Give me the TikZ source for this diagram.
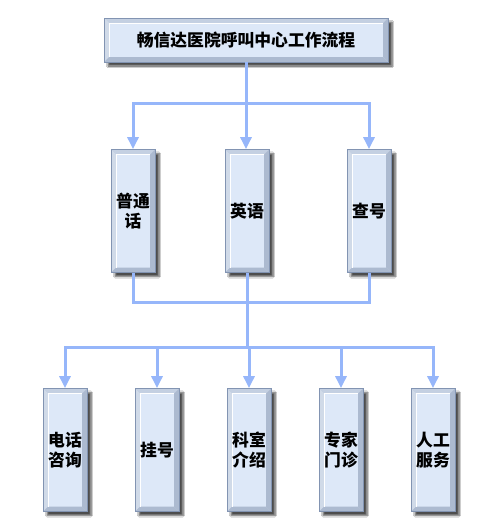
\documentclass[tikz,border=0pt]{standalone}
\usepackage{fontspec}
\newfontfamily\cjk{Noto Sans CJK SC}
\usetikzlibrary{arrows.meta,shadows.blur}
\definecolor{linec}{RGB}{150,182,250}
\definecolor{facec}{RGB}{221,232,248}
\definecolor{edgec}{RGB}{130,148,178}
\definecolor{bevtop}{RGB}{196,208,226}
\definecolor{bevbot}{RGB}{172,186,208}
\tikzset{
  conn/.style={draw=linec, line width=3pt},
  arr/.style={conn, -{Triangle[width=11pt,length=12pt]}},
  bevelbox/.style={rectangle, draw=edgec, line width=0.8pt, fill=facec,
    inner sep=0pt, align=center,
    font=\cjk\bfseries\fontsize{16.8pt}{20pt}\selectfont,
    blur shadow={shadow xshift=4pt, shadow yshift=-4pt, shadow blur steps=6, shadow opacity=70},
    path picture={
      \coordinate (NW) at (path picture bounding box.north west);
      \coordinate (NE) at (path picture bounding box.north east);
      \coordinate (SW) at (path picture bounding box.south west);
      \coordinate (SE) at (path picture bounding box.south east);
      \fill[bevtop] (NW) -- (NE) -- ([shift={(-5pt,-5pt)}]NE) -- ([shift={(5pt,-5pt)}]NW) -- cycle;
      \fill[bevtop!80!white] (NW) -- ([shift={(5pt,-5pt)}]NW) -- ([shift={(5pt,5pt)}]SW) -- (SW) -- cycle;
      \fill[bevbot] (SW) -- ([shift={(5pt,5pt)}]SW) -- ([shift={(-5pt,5pt)}]SE) -- (SE) -- cycle;
      \fill[bevbot] (SE) -- ([shift={(-5pt,5pt)}]SE) -- ([shift={(-5pt,-5pt)}]NE) -- (NE) -- cycle;
      \draw[white, line width=1pt] ([shift={(5pt,5pt)}]SW) -- ([shift={(5pt,-5pt)}]NW) -- ([shift={(-5pt,-5pt)}]NE);
    }},
  titlebox/.style={bevelbox, minimum width=284pt, minimum height=44pt},
  tallbox/.style={bevelbox, minimum width=44pt, minimum height=123pt}
}
\begin{document}
\begin{tikzpicture}[x=1pt,y=-1pt]
\useasboundingbox[fill=white] (0,0) rectangle (487,525);
\node[titlebox] (title) at (246,40) {畅信达医院呼叫中心工作流程};
\node[tallbox] (m1) at (133,211) {普通\\话};
\node[tallbox] (m2) at (247,211) {英语};
\node[tallbox] (m3) at (369,211) {查号};
\node[tallbox] (b1) at (65,450) {电话\\咨询};
\node[tallbox] (b2) at (157,450) {挂号};
\node[tallbox] (b3) at (249,450) {科室\\介绍};
\node[tallbox] (b4) at (341,450) {专家\\门诊};
\node[tallbox] (b5) at (433,450) {人工\\服务};
\coordinate (j1) at (246,103);
\coordinate (j2) at (247,302);
\coordinate (j3) at (247,347);
\draw[arr] (title.south) -- (title.south |- m2.north);
\draw[arr] (j1) -| (m1.north);
\draw[arr] (j1) -| (m3.north);
\draw[conn] (m1.south) |- (j2);
\draw[conn] (m3.south) |- (j2);
\draw[conn] (m2.south) -- (j2) -- (j3);
\draw[arr] (j3) -| (b1.north);
\draw[arr] (j3) -| (b2.north);
\draw[arr] (j3) -| (b3.north);
\draw[arr] (j3) -| (b4.north);
\draw[arr] (j3) -| (b5.north);
\end{tikzpicture}
\end{document}
